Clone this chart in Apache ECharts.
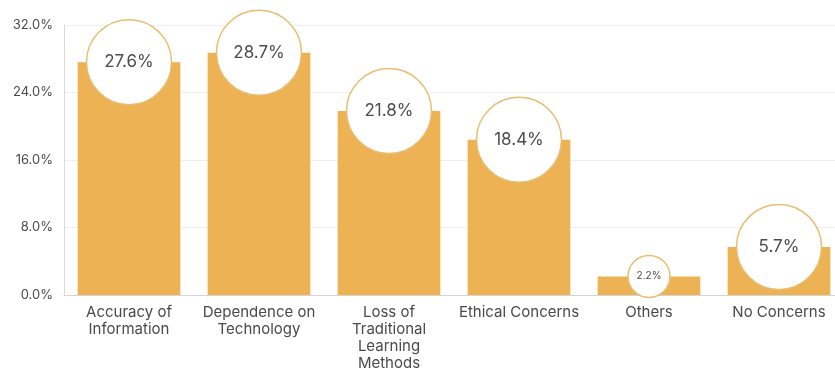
<!DOCTYPE html>
<html>
<head>
<meta charset="utf-8">
<script src="https://cdn.jsdelivr.net/npm/echarts@6/dist/echarts.min.js"></script>
<style>
  html, body { margin: 0; padding: 0; background: #ffffff; }
  #chart { width: 835px; height: 371px; }
</style>
</head>
<body>
<div id="chart"></div>
<script>
// Survey concerns, share of respondents (%)
const categories = [
  'Accuracy of Information',
  'Dependence on Technology',
  'Loss of Traditional Learning Methods',
  'Ethical Concerns',
  'Others',
  'No Concerns'
];
const tickLabels = [
  'Accuracy of\nInformation',
  'Dependence on\nTechnology',
  'Loss of\nTraditional\nLearning\nMethods',
  'Ethical Concerns',
  'Others',
  'No Concerns'
];
const shares = [27.6, 28.7, 21.8, 18.4, 2.2, 5.7];
const yTicks = { min: 0, max: 32, step: 8 };

const FONT = 'Inter, "Open Sans", sans-serif';
const BAR = '#EDB254';

const chart = echarts.init(document.getElementById('chart'), null, { renderer: 'canvas' });

// Value badges: white circles sitting on the top of each bar
const badges = shares.map((v, i) => {
  const small = v < 5;
  return {
    value: [categories[i], v],
    symbolSize: small ? 42 : 85,
    label: { fontSize: small ? 10 : 17 }
  };
});

chart.setOption({
  animation: false,
  // plot area runs slightly past the right edge of the canvas
  grid: {
    left: 64, width: 780, top: 25, height: 270,
    containLabel: false,
    outerBoundsMode: 'none'
  },
  xAxis: {
    type: 'category',
    data: categories,
    axisLine: { lineStyle: { color: '#d4d4d4', width: 1 } },
    axisTick: { show: false },
    axisLabel: {
      interval: 0,
      margin: 9,
      color: '#4a4a4a',
      fontSize: 15,
      lineHeight: 17,
      fontFamily: FONT,
      formatter: (val, idx) => tickLabels[idx]
    }
  },
  yAxis: {
    type: 'value',
    min: yTicks.min,
    max: yTicks.max,
    interval: yTicks.step,
    axisLine: { show: true, lineStyle: { color: '#d9d9d9', width: 1 } },
    axisTick: { show: false },
    splitLine: { lineStyle: { color: '#efefef', width: 1 } },
    axisLabel: {
      margin: 11,
      color: '#4a4a4a',
      fontSize: 13,
      fontFamily: FONT,
      formatter: v => v.toFixed(1) + '%'
    }
  },
  series: [
    {
      type: 'bar',
      data: shares,
      barCategoryGap: '21%',
      itemStyle: { color: BAR },
      z: 2
    },
    {
      type: 'scatter',
      data: badges,
      symbol: 'circle',
      itemStyle: {
        color: '#ffffff',
        borderColor: '#E7BD72',
        borderWidth: 1.5,
        opacity: 1
      },
      label: {
        show: true,
        position: 'inside',
        color: '#4d4d4d',
        fontFamily: FONT,
        formatter: p => p.value[1].toFixed(1) + '%'
      },
      z: 3
    }
  ]
});
</script>
</body>
</html>
